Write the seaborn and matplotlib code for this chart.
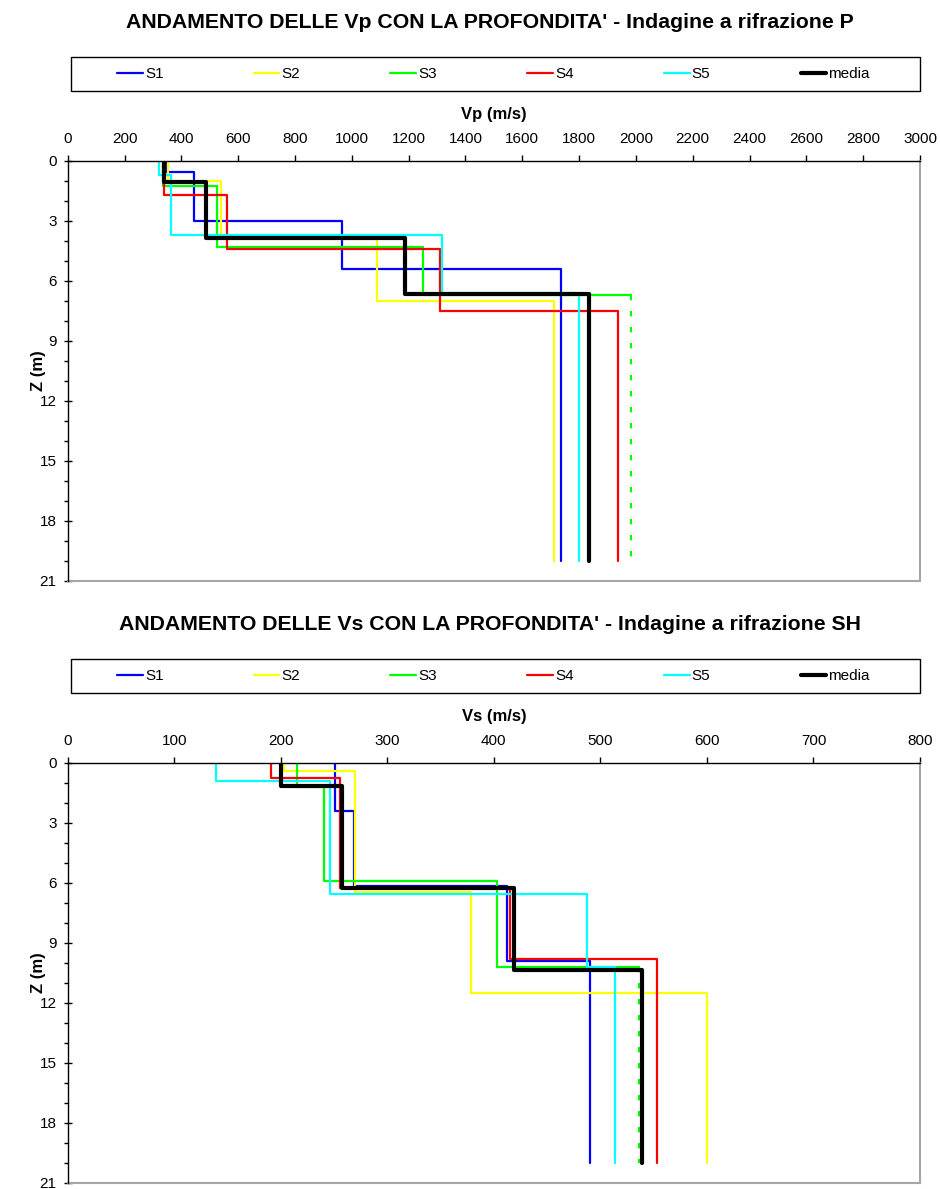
import numpy as np
import pandas as pd
import matplotlib
matplotlib.use("Agg")
import matplotlib.pyplot as plt
import seaborn as sns
from matplotlib.patches import Rectangle
from matplotlib.ticker import MultipleLocator

# ---------------- DATA ----------------
series_names = ["S1", "S2", "S3", "S4", "S5", "media"]
series_colors = ["#0000ff", "#ffff00", "#00ff00", "#ff0000", "#00ffff", "#000000"]
max_depth = 20

# Vp profiles: layer velocities (m/s) and layer-bottom depths (m)
vp_S1 = [345, 443, 967, 1735]
vp_S1_z = [0.58, 3.0, 5.42]
vp_S2 = [352, 540, 1090, 1710]
vp_S2_z = [1.0, 3.9, 7.0]
vp_S3 = [335, 526, 1251, 1982]
vp_S3_z = [1.28, 4.3, 6.7]
vp_S4 = [340, 561, 1312, 1936]
vp_S4_z = [1.71, 4.42, 7.53]
vp_S5 = [322, 364, 1317, 1799]
vp_S5_z = [0.73, 3.72, 6.63]
vp_media = [340, 487, 1186, 1834]
vp_media_z = [1.07, 3.87, 6.67]

# Vs profiles
vs_S1 = [251, 269, 412, 490]
vs_S1_z = [2.4, 6.18, 9.91]
vs_S2 = [203, 270, 379, 600]
vs_S2_z = [0.4, 6.45, 11.5]
vs_S3 = [215, 241, 403, 536]
vs_S3_z = [1.23, 5.89, 10.2]
vs_S4 = [191, 256, 415, 553]
vs_S4_z = [0.78, 6.27, 9.82]
vs_S5 = [139, 246, 487, 514]
vs_S5_z = [0.9, 6.58, 10.2]
vs_media = [200, 257, 419, 539]
vs_media_z = [1.15, 6.28, 10.37]

vp_ticks = list(range(0, 3001, 200))
vs_ticks = list(range(0, 801, 100))
z_ticks = list(range(0, 22, 3))

title_p = "ANDAMENTO DELLE Vp CON LA PROFONDITA' - Indagine a rifrazione P"
title_s = "ANDAMENTO DELLE Vs CON LA PROFONDITA' - Indagine a rifrazione SH"

vp_data = [(vp_S1, vp_S1_z), (vp_S2, vp_S2_z), (vp_S3, vp_S3_z),
           (vp_S4, vp_S4_z), (vp_S5, vp_S5_z), (vp_media, vp_media_z)]
vs_data = [(vs_S1, vs_S1_z), (vs_S2, vs_S2_z), (vs_S3, vs_S3_z),
           (vs_S4, vs_S4_z), (vs_S5, vs_S5_z), (vs_media, vs_media_z)]

# ---------------- STYLE ----------------
sns.set_style("white")
plt.rcParams["font.family"] = ["Liberation Sans", "DejaVu Sans"]
plt.rcParams["text.color"] = "black"
plt.rcParams["axes.labelcolor"] = "black"
plt.rcParams["xtick.color"] = "black"
plt.rcParams["ytick.color"] = "black"

W, H = 940, 1189
fig = plt.figure(figsize=(W / 100, H / 100), dpi=100)


def fx(px):
    return px / W


def fy(py):
    return 1 - py / H


def profile(vel, z):
    tops = [0] + list(z)
    bots = list(z) + [max_depth]
    depth = np.ravel(np.column_stack([tops, bots]))
    v = np.repeat(vel, 2)
    return pd.DataFrame({"v": v, "z": depth})


def draw_chart(offset, data, xmax, xticks, xlabel, title):
    ax_left, ax_right = 67.7, 920.0
    ax_top, ax_bot = 160.7 + offset, 581.0 + offset
    ax = fig.add_axes([fx(ax_left), fy(ax_bot), fx(ax_right - ax_left),
                       (ax_bot - ax_top) / H])
    for i, (name, color, (vel, z)) in enumerate(zip(series_names, series_colors, data)):
        df = profile(vel, z)
        lw = 3.0 if name == "media" else 1.6
        if name == "S3":
            solid = df.iloc[:-1]
            last = df.iloc[-2:]
            sns.lineplot(data=solid, x="v", y="z", sort=False, estimator=None,
                         color=color, lw=lw, ax=ax, label=name, zorder=2 + i)
            sns.lineplot(data=last, x="v", y="z", sort=False, estimator=None,
                         color=color, lw=lw, ax=ax, zorder=2 + i,
                         linestyle=(0, (2.4, 4.8)), legend=False)
        else:
            sns.lineplot(data=df, x="v", y="z", sort=False, estimator=None,
                         color=color, lw=lw, ax=ax, label=name, zorder=2 + i)
    handles, labels = ax.get_legend_handles_labels()
    if ax.get_legend() is not None:
        ax.get_legend().remove()

    ax.set_xlim(0, xmax)
    ax.set_ylim(21, 0)
    ax.xaxis.tick_top()
    ax.xaxis.set_label_position("top")
    ax.set_xticks(xticks)
    ax.set_yticks(z_ticks)
    ax.yaxis.set_minor_locator(MultipleLocator(1))
    ax.tick_params(axis="x", which="major", direction="out", length=4.5, width=1,
                   color="black", labelcolor="black", labelsize=11, pad=6,
                   top=True, bottom=False)
    ax.tick_params(axis="y", which="major", direction="inout", length=6, width=1,
                   color="black", labelcolor="black", labelsize=11, pad=5, left=True)
    ax.tick_params(axis="y", which="minor", direction="out", length=3, width=1,
                   color="black", left=True)
    for s in ["top", "left"]:
        ax.spines[s].set_color("black")
        ax.spines[s].set_linewidth(1.0)
    for s in ["bottom", "right"]:
        ax.spines[s].set_color("#a6a6a6")
        ax.spines[s].set_linewidth(1.5)
    ax.spines["top"].set_zorder(20)
    ax.spines["left"].set_zorder(20)

    ax.set_xlabel(xlabel, fontsize=12, fontweight="bold", color="black")
    ax.xaxis.set_label_coords(0.5, (ax_bot - (115 + offset)) / (ax_bot - ax_top))
    ax.xaxis.label.set_va("center")
    ax.set_ylabel("Z (m)", fontsize=12, fontweight="bold", color="black")
    ax.yaxis.set_label_coords((38 - ax_left) / (ax_right - ax_left), 0.5)
    ax.yaxis.label.set_va("center")

    # title
    fig.text(fx(490), fy(22 + offset), title, ha="center", va="center",
             fontsize=15.3, fontweight="bold", color="black")

    # legend box
    lx0, lx1, ly0, ly1 = 71, 920, 57.3 + offset, 91 + offset
    fig.patches.append(Rectangle((fx(lx0), fy(ly1)), fx(lx1 - lx0), (ly1 - ly0) / H,
                                 transform=fig.transFigure, fill=False,
                                 edgecolor="black", linewidth=1.0))
    fig.legend(handles, labels, loc="center",
               bbox_to_anchor=(fx((lx0 + lx1) / 2 - 2), fy((ly0 + ly1) / 2)),
               ncol=6, frameon=False, fontsize=11, handlelength=1.68,
               handletextpad=0.15, columnspacing=5.9, labelcolor="black")
    return ax


draw_chart(0, vp_data, 3000, vp_ticks, "Vp (m/s)", title_p)
draw_chart(602, vs_data, 800, vs_ticks, "Vs (m/s)", title_s)

fig.savefig("out.png", dpi=100)
